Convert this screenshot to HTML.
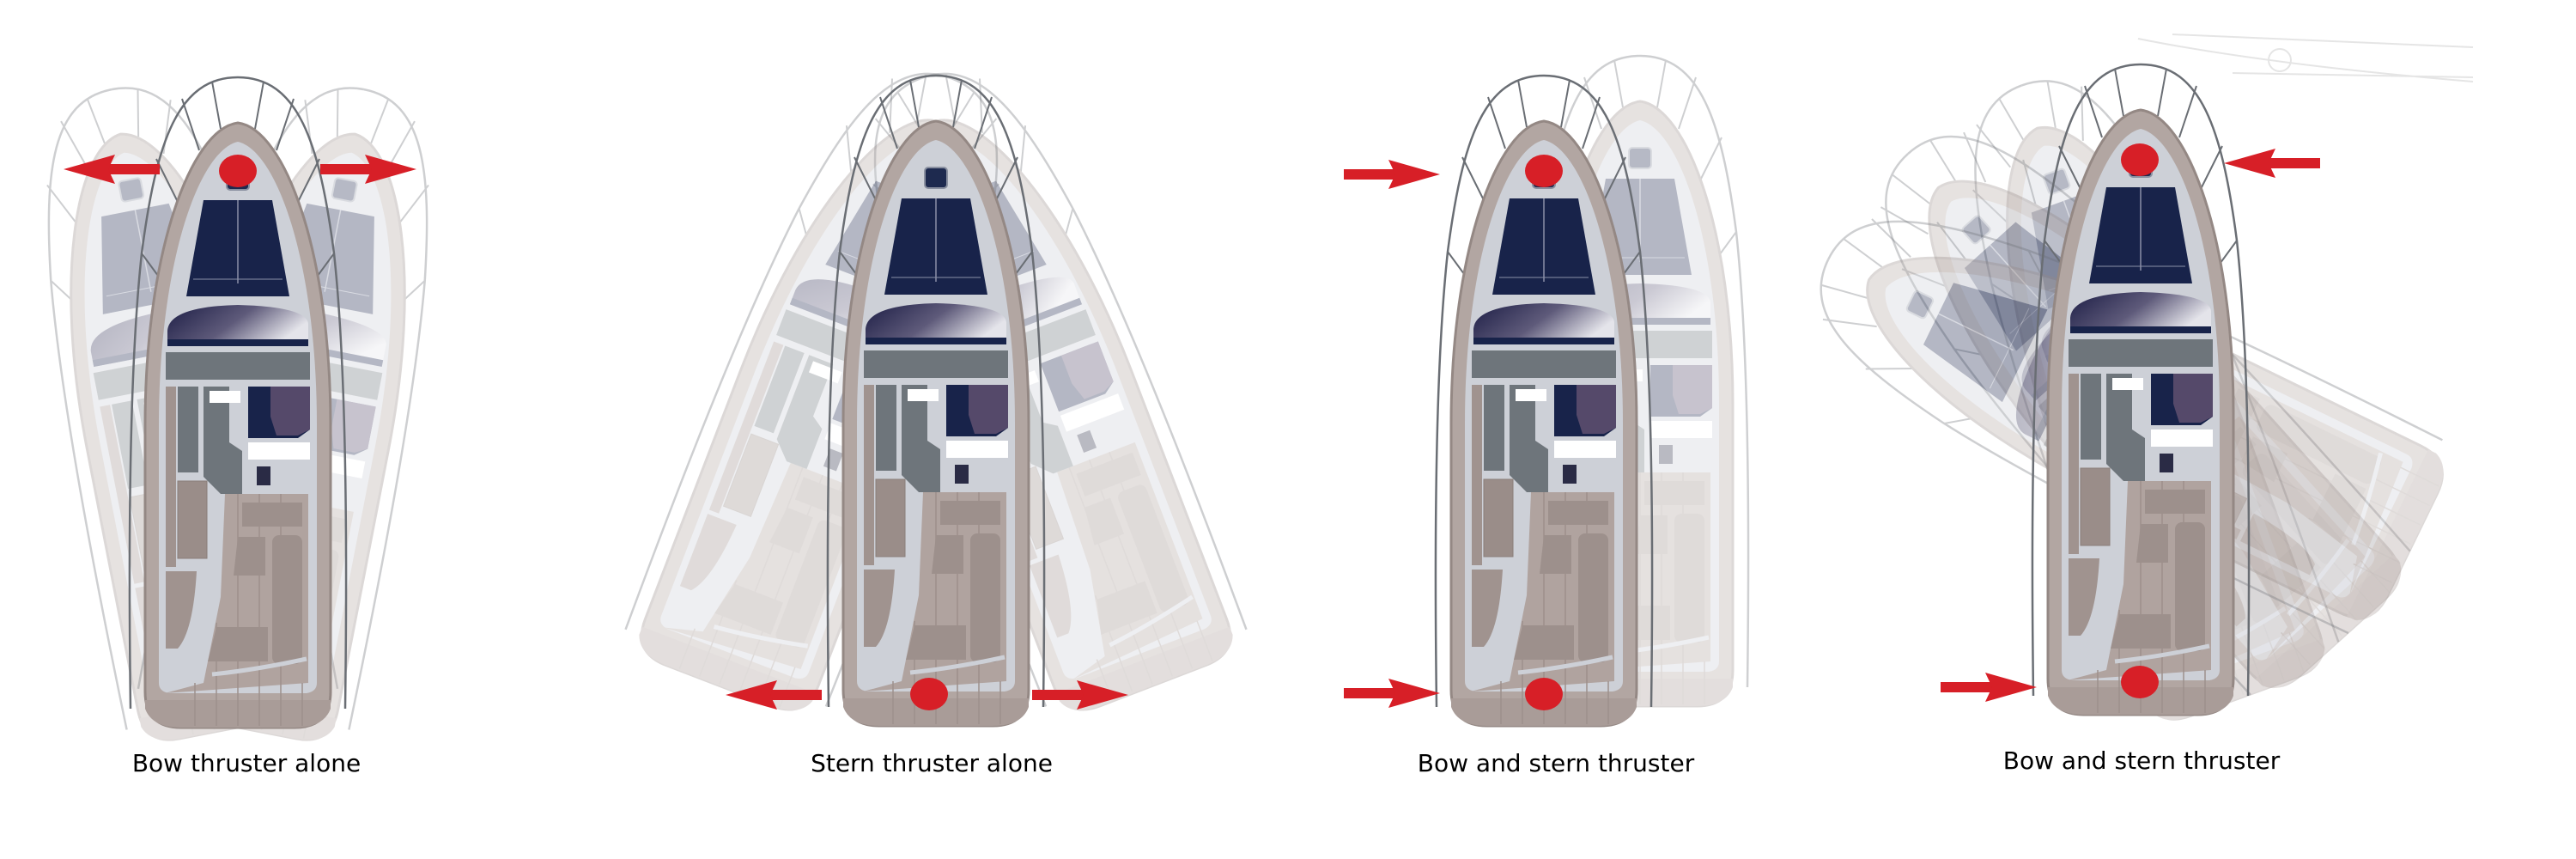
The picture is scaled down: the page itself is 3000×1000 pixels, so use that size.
<!DOCTYPE html>
<html><head><meta charset="utf-8"><style>
html,body{margin:0;padding:0;background:#fff}
svg{display:block}
text{font-family:"DejaVu Sans","Liberation Sans",sans-serif;font-size:28px;fill:#000}
</style></head><body>
<svg width="3000" height="1000" viewBox="0 0 3000 1000" xmlns="http://www.w3.org/2000/svg">
<defs>
<linearGradient id="ws" x1="0" y1="0" x2="1" y2="0.4">
<stop offset="0" stop-color="#1c1d45"/><stop offset="0.55" stop-color="#5e5a7a"/><stop offset="1" stop-color="#e4e4ea"/>
</linearGradient>
<g id="boat">
<path d="M0,-405 C70,-405 95,-330 112,-200 C125,-80 128,100 125,330" fill="none" stroke="#6a6e74" stroke-width="2.5"/>
<path d="M0,-405 C-70,-405 -95,-330 -112,-200 C-125,-80 -128,100 -125,330" fill="none" stroke="#6a6e74" stroke-width="2.5"/>
<path d="M-30,-400 L-20,-345 M30,-400 L20,-345 M-65,-380 L-45,-320 M65,-380 L45,-320 M-95,-310 L-70,-260 M95,-310 L70,-260 M-112,-200 L-90,-170 M112,-200 L90,-170" stroke="#6a6e74" stroke-width="2"/>
<path d="M0,-352 C55,-345 108,-200 108,0 L108,310 Q108,352 66,352 L-66,352 Q-108,352 -108,310 L-108,0 C-108,-200 -55,-345 0,-352 Z" fill="#b2a6a2" stroke="#948884" stroke-width="3"/>
<path d="M0,-330 C45,-320 92,-190 92,0 L92,300 Q92,310 80,312 L-80,312 Q-92,310 -92,300 L-92,0 C-92,-190 -45,-320 0,-330 Z" fill="#cdd0d7"/>
<path d="M-15,80 L82,80 L82,300 L-85,312 L-40,300 L-20,200 Z" fill="#b0a39f"/>
<path d="M-108,320 L108,320 L108,330 Q100,352 66,352 L-66,352 Q-100,352 -108,330 Z" fill="#a99c98"/>
<g stroke="#9d908c" stroke-width="1.5"><line x1="0" y1="80" x2="0" y2="350"/><line x1="25" y1="80" x2="25" y2="350"/><line x1="50" y1="80" x2="50" y2="350"/><line x1="-25" y1="230" x2="-25" y2="350"/><line x1="-50" y1="300" x2="-50" y2="350"/><line x1="75" y1="300" x2="75" y2="350"/></g>
<rect x="-13" y="-298" width="26" height="24" rx="4" fill="#1e2a4f" stroke="#8a90a0" stroke-width="2"/>
<path d="M-40,-262 L40,-262 L60,-150 L-60,-150 Z" fill="#18234a"/>
<line x1="0" y1="-262" x2="0" y2="-165" stroke="#8a90a8" stroke-width="1.5"/>
<line x1="-52" y1="-170" x2="52" y2="-170" stroke="#8a90a8" stroke-width="1"/>
<path d="M-82,-110 Q-80,-138 0,-140 Q80,-138 82,-118 L82,-92 L-82,-92 Z" fill="url(#ws)"/>
<rect x="-82" y="-100" width="164" height="8" fill="#18234a"/>
<rect x="-84" y="-85" width="168" height="32" fill="#6e757b"/>
<rect x="-84" y="-45" width="12" height="210" fill="#a0938f"/>
<rect x="-70" y="-45" width="24" height="100" fill="#6e757b"/>
<path d="M-40,-45 L-10,-45 L-10,20 L5,30 L5,80 L-20,80 L-40,60 Z" fill="#6e757b"/>
<rect x="-33" y="-40" width="36" height="14" fill="#fff"/>
<path d="M12,-45 L84,-45 L84,5 L70,15 L40,15 L12,15 Z" fill="#18234a"/>
<path d="M38,-45 L84,-45 L84,5 L70,12 L45,12 L38,-10 Z" fill="#55496a"/>
<path d="M12,20 L84,20 L84,40 L12,40 Z" fill="#fff"/>
<rect x="22" y="48" width="16" height="22" fill="#2a2b45"/>
<rect x="-70" y="65" width="34" height="90" fill="#9a8d89" stroke="#8a7e7a"/>
<path d="M-84,170 L-48,170 Q-52,240 -70,260 L-84,260 Z" fill="#a0938f"/>
<rect x="5" y="90" width="70" height="28" fill="#9d908c"/>
<rect x="40" y="128" width="35" height="150" rx="8" fill="#9d908c"/>
<path d="M0,130 L32,130 L32,175 L-5,175 Z" fill="#9d908c"/>
<path d="M-25,235 L35,235 L35,275 L-35,275 Z" fill="#9d908c"/>
<path d="M-30,290 Q20,285 80,272" fill="none" stroke="#cdd0d7" stroke-width="5"/>
</g>
<g id="ghost" opacity="0.32"><use href="#boat"/></g>
<g id="arrow"><rect x="0" y="-6" width="62" height="12" fill="#d71f27"/><path d="M52,-17 L112,0 L52,17 L60,0 Z" fill="#d71f27"/></g>
</defs>

<g transform="rotate(-11 277 860)"><use href="#ghost" transform="translate(277 495)"/></g>
<g transform="rotate(11 277 860)"><use href="#ghost" transform="translate(277 495)"/></g>
<use href="#boat" transform="translate(277 495)"/>
<ellipse cx="277" cy="199" rx="22" ry="19" fill="#d71f27"/>
<use href="#arrow" transform="translate(186 197) scale(-1 1)"/>
<use href="#arrow" transform="translate(373 197)"/>
<text x="287" y="898" text-anchor="middle">Bow thruster alone</text>

<g transform="rotate(-21 1090 140)"><use href="#ghost" transform="translate(1090 493)"/></g>
<g transform="rotate(21 1090 140)"><use href="#ghost" transform="translate(1090 493)"/></g>
<use href="#boat" transform="translate(1090 493)"/>
<ellipse cx="1082" cy="808" rx="22" ry="19" fill="#d71f27"/>
<use href="#arrow" transform="translate(957 809) scale(-1 1)"/>
<use href="#arrow" transform="translate(1202 809)"/>
<text x="1085" y="898" text-anchor="middle">Stern thruster alone</text>

<use href="#ghost" transform="translate(1910 470)"/>
<use href="#boat" transform="translate(1798 493)"/>
<ellipse cx="1798" cy="199" rx="22" ry="19" fill="#d71f27"/>
<ellipse cx="1798" cy="808" rx="22" ry="19" fill="#d71f27"/>
<use href="#arrow" transform="translate(1565 203)"/>
<use href="#arrow" transform="translate(1565 807)"/>
<text x="1812" y="898" text-anchor="middle">Bow and stern thruster</text>

<g opacity="0.5"><path d="M2490,45 Q2640,75 2880,95 M2530,40 L2880,55 M2600,85 L2880,90" stroke="#ccc" stroke-width="2" fill="none"/><circle cx="2655" cy="70" r="13" fill="none" stroke="#ccc" stroke-width="2"/></g>
<g transform="rotate(-20 2493 480)"><use href="#ghost" transform="translate(2493 480)"/></g>
<g transform="rotate(-42 2493 480)"><use href="#ghost" transform="translate(2493 480)"/></g>
<g transform="rotate(-64 2493 480)"><use href="#ghost" transform="translate(2493 480)"/></g>
<use href="#boat" transform="translate(2493 480)"/>
<ellipse cx="2492" cy="186" rx="22" ry="19" fill="#d71f27"/>
<ellipse cx="2492" cy="794" rx="22" ry="19" fill="#d71f27"/>
<use href="#arrow" transform="translate(2702 190) scale(-1 1)"/>
<use href="#arrow" transform="translate(2260 800)"/>
<text x="2494" y="895" text-anchor="middle">Bow and stern thruster</text>
</svg>
</body></html>
